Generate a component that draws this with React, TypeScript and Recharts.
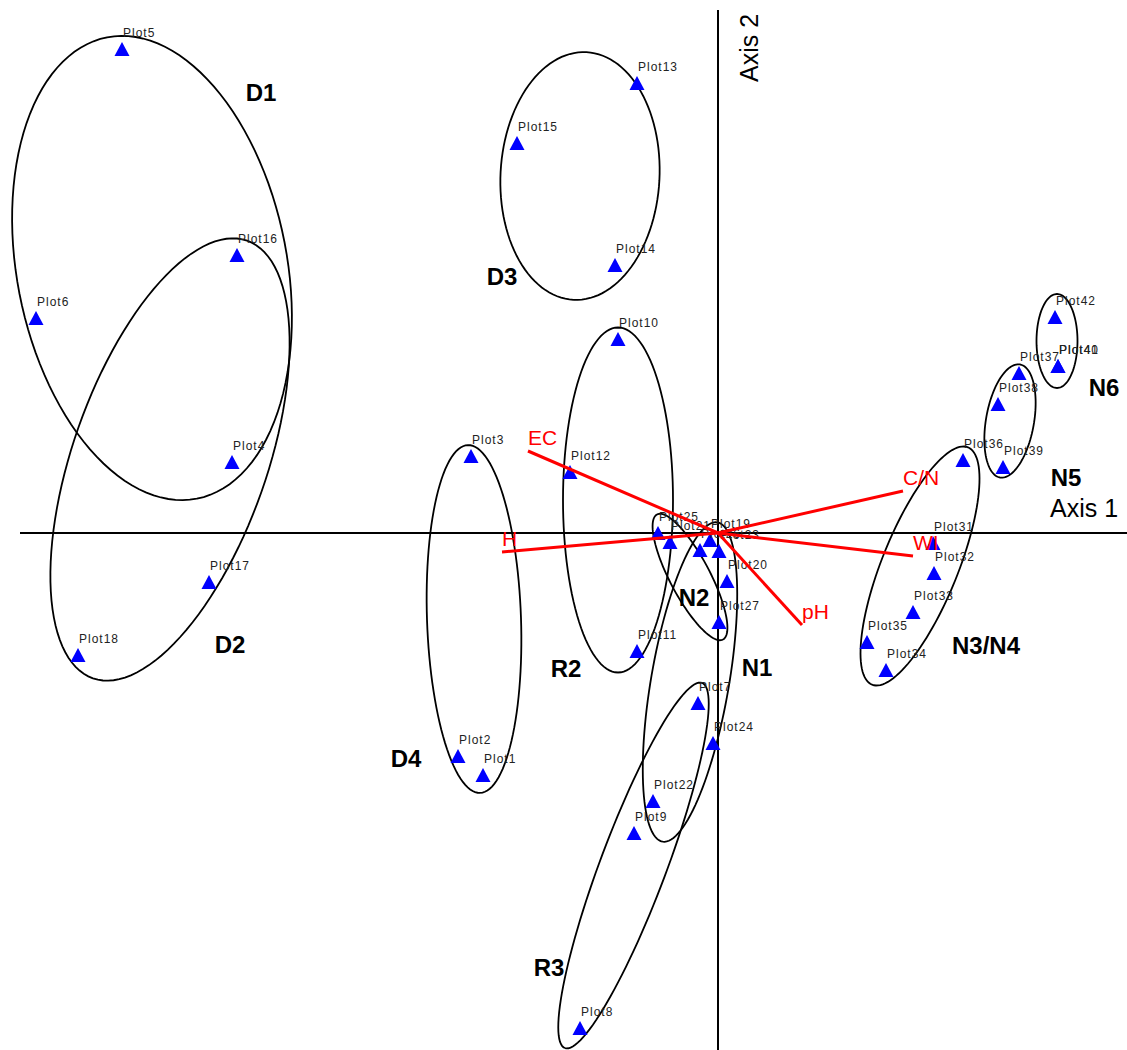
import { ScatterChart, Scatter, XAxis, YAxis, ReferenceLine } from 'recharts';

// site scores (axis 1 / axis 2)
const plotLabels = [
  'Plot1', 'Plot2', 'Plot3', 'Plot4', 'Plot5', 'Plot6', 'Plot7', 'Plot8', 'Plot9', 'Plot10',
  'Plot11', 'Plot12', 'Plot13', 'Plot14', 'Plot15', 'Plot16', 'Plot17', 'Plot18', 'Plot19', 'Plot20',
  'Plot21', 'Plot22', 'Plot23', 'Plot24', 'Plot25', 'Plot26', 'Plot27', 'Plot31', 'Plot32', 'Plot33',
  'Plot34', 'Plot35', 'Plot36', 'Plot37', 'Plot38', 'Plot39', 'Plot40', 'Plot41', 'Plot42',
];
const axis1 = [
  -2.35, -2.6, -2.47, -4.86, -5.96, -6.82, -0.2, -1.38, -0.84, -1.0,
  -0.81, -1.48, -0.81, -1.03, -2.01, -4.81, -5.09, -6.4, -0.08, 0.09,
  -0.48, -0.65, 0.01, -0.05, -0.6, -0.18, 0.01, 2.15, 2.16, 1.95,
  1.68, 1.49, 2.45, 3.01, 2.8, 2.85, 3.4, 3.4, 3.37,
];
const axis2 = [
  -2.42, -2.23, 0.77, 0.71, 4.84, 2.15, -1.7, -4.95, -3.0, 1.94,
  -1.18, 0.61, 4.5, 2.68, 3.9, 2.78, -0.49, -1.22, -0.07, -0.48,
  -0.09, -2.68, -0.18, -2.1, 0.0, -0.17, -0.89, -0.1, -0.4, -0.79,
  -1.37, -1.09, 0.73, 1.6, 1.29, 0.66, 1.67, 1.67, 2.16,
];

// environmental vectors
const envNames = ['EC', 'H', 'C/N', 'WI', 'pH'];
const envAxis1 = [-1.9, -2.16, 1.85, 1.95, 0.84];
const envAxis2 = [0.82, -0.19, 0.42, -0.23, -0.92];

// group ellipses: centre, half axes, tilt of long axis (deg)
const groupNames = ['D1', 'D2', 'D3', 'D4', 'R2', 'R3', 'N1', 'N2', 'N3/N4', 'N5', 'N6'];
const groupCx = [-5.66, -5.48, -1.38, -2.44, -1.0, -0.845, -0.28, -0.28, 2.02, 2.92, 3.39];
const groupCy = [2.65, 0.735, 3.57, -0.86, 0.33, -3.325, -1.49, -0.44, -0.33, 1.12, 1.92];
const groupA = [2.35, 2.32, 1.24, 1.74, 1.725, 1.95, 1.62, 0.707, 1.28, 0.574, 0.47];
const groupB = [1.35, 0.97, 0.795, 0.47, 0.55, 0.33, 0.39, 0.2, 0.38, 0.24, 0.205];
const groupTilt = [11, -19.4, -3, 2, 0, -20.6, -9.75, 27.8, -22, -10, 0];
const groupLabelX = [-4.57, -4.88, -2.16, -3.12, -1.52, -1.69, 0.39, -0.24, 2.68, 3.48, 3.86];
const groupLabelY = [4.41, -1.11, 2.57, -2.25, -1.35, -4.34, -1.34, -0.64, -1.12, 0.56, 1.46];

const font = 'Liberation Sans, Arial, Helvetica, sans-serif';

const plots = plotLabels.map((name, i) => ({ name, x: axis1[i], y: axis2[i] }));
const envTips = envNames.map((name, i) => ({ name, x: envAxis1[i], y: envAxis2[i] }));
const groupText = groupNames.map((name, i) => ({ name, x: groupLabelX[i], y: groupLabelY[i] }));

const outline = (i: number) => {
  const th = (groupTilt[i] * Math.PI) / 180;
  const pts = [];
  for (let k = 0; k <= 120; k++) {
    const t = (2 * Math.PI * k) / 120;
    const u = groupA[i] * Math.cos(t);
    const v = groupB[i] * Math.sin(t);
    pts.push({
      x: groupCx[i] + u * Math.sin(th) + v * Math.cos(th),
      y: groupCy[i] - u * Math.cos(th) + v * Math.sin(th),
    });
  }
  return pts;
};

const Empty = () => <g />;

const SiteMark = (props: any) => {
  const { cx, cy, payload } = props;
  return (
    <g>
      <polygon
        points={`${cx},${cy - 7} ${cx + 7.5},${cy + 7} ${cx - 7.5},${cy + 7}`}
        fill="#0000ff"
      />
      <text x={cx + 1} y={cy - 12} fontSize={12} letterSpacing={1} fontFamily={font} fill="#222">
        {payload.name}
      </text>
    </g>
  );
};

const EnvLabel = (props: any) => {
  const { cx, cy, payload } = props;
  return (
    <text x={cx} y={cy - 6} fontSize={21} fontFamily={font} fill="#ff0000">
      {payload.name}
    </text>
  );
};

const GroupLabel = (props: any) => {
  const { cx, cy, payload } = props;
  return (
    <text x={cx} y={cy} fontSize={24} fontWeight="bold" fontFamily={font} fill="#000"
      textAnchor="middle" dominantBaseline="central">
      {payload.name}
    </text>
  );
};

export default function App() {
  return (
    <div style={{ position: 'absolute', left: 0, top: 0, width: 1127, height: 1050, background: '#fff' }}>
      <ScatterChart width={1127} height={1050} margin={{ top: 0, right: 0, bottom: 0, left: 0 }}>
        <XAxis type="number" dataKey="x" domain={[-7.18, 4.09]} hide allowDataOverflow />
        <YAxis type="number" dataKey="y" domain={[-5.17, 5.33]} hide allowDataOverflow />
        <ReferenceLine
          segment={[{ x: -6.98, y: 0 }, { x: 4.09, y: 0 }]}
          stroke="#000"
          strokeWidth={2}
          ifOverflow="visible"
        />
        <ReferenceLine
          segment={[{ x: 0, y: 5.23 }, { x: 0, y: -5.17 }]}
          stroke="#000"
          strokeWidth={2}
          ifOverflow="visible"
        />
        {groupNames.map((g, i) => (
          <Scatter
            key={g}
            data={outline(i)}
            line={{ stroke: '#000', strokeWidth: 1.8 }}
            lineType="joint"
            shape={Empty}
            isAnimationActive={false}
          />
        ))}
        <Scatter data={plots} shape={SiteMark} isAnimationActive={false} />
        {envTips.map((e) => (
          <Scatter
            key={e.name}
            data={[{ x: 0, y: 0 }, { x: e.x, y: e.y }]}
            line={{ stroke: '#ff0000', strokeWidth: 3 }}
            lineType="joint"
            shape={Empty}
            isAnimationActive={false}
          />
        ))}
        <Scatter data={envTips} shape={EnvLabel} isAnimationActive={false} />
        <Scatter data={groupText} shape={GroupLabel} isAnimationActive={false} />
        <Scatter
          data={[{ x: 3.32, y: 0.16 }]}
          shape={(p: any) => (
            <text x={p.cx} y={p.cy} fontSize={25} fontFamily={font} fill="#000">Axis 1</text>
          )}
          isAnimationActive={false}
        />
        <Scatter
          data={[{ x: 0.4, y: 4.51 }]}
          shape={(p: any) => (
            <text x={p.cx} y={p.cy} fontSize={25} fontFamily={font} fill="#000"
              transform={`rotate(-90, ${p.cx}, ${p.cy})`}>Axis 2</text>
          )}
          isAnimationActive={false}
        />
      </ScatterChart>
    </div>
  );
}
